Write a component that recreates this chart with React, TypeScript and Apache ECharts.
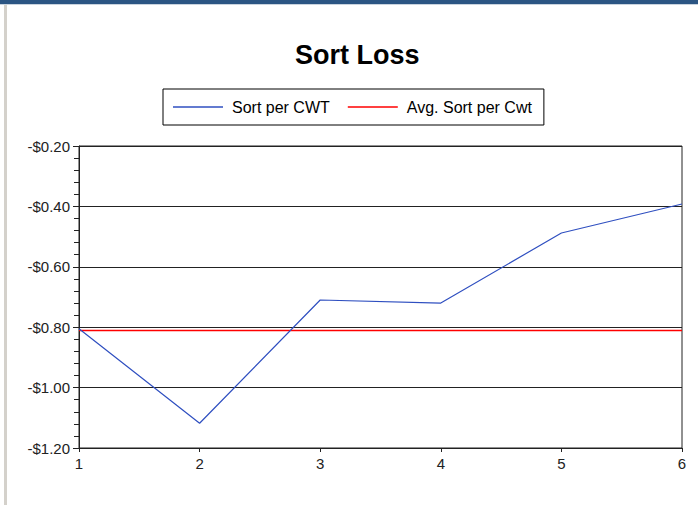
import React, { useEffect, useRef } from "react";
import * as echarts from "echarts";

const categories = ["1", "2", "3", "4", "5", "6"];
const sortPerCwt = [-0.805, -1.118, -0.71, -0.72, -0.488, -0.392];
const avgSortPerCwt = [-0.811, -0.811, -0.811, -0.811, -0.811, -0.811];
const titleText = "Sort Loss";
const seriesNames = ["Sort per CWT", "Avg. Sort per Cwt"];

const FONT = "'Liberation Sans', Arial, sans-serif";

export default function App() {
  const ref = useRef<HTMLDivElement>(null);
  useEffect(() => {
    document.body.style.margin = "0";
    const chart = echarts.init(ref.current!, null, { renderer: "svg" });
    chart.setOption({
      animation: false,
      backgroundColor: "#ffffff",
      title: {
        text: titleText,
        left: 290,
        top: 36,
        textStyle: { fontFamily: FONT, fontSize: 27, fontWeight: "bold", color: "#000" },
      },
      legend: {
        left: 163,
        top: 89,
        padding: [10, 12, 10, 10],
        borderColor: "#000",
        borderWidth: 1,
        icon: "rect",
        itemWidth: 50,
        itemHeight: 1.5,
        itemGap: 18,
        textStyle: { fontFamily: FONT, fontSize: 16, color: "#000", padding: [0, 0, 0, 4] },
        data: seriesNames,
      },
      grid: {
        left: 79,
        right: 16,
        top: 146,
        bottom: 57,
        show: true,
        borderColor: "#222",
        borderWidth: 1,
      },
      xAxis: {
        type: "category",
        data: categories,
        boundaryGap: false,
        axisLine: { lineStyle: { color: "#222", width: 1 } },
        axisTick: { show: true, length: 4, lineStyle: { color: "#222" } },
        axisLabel: { fontFamily: FONT, fontSize: 15, color: "#222", margin: 8 },
        splitLine: { show: false },
      },
      yAxis: {
        type: "value",
        min: -1.2,
        max: -0.2,
        interval: 0.2,
        axisLine: { show: true, lineStyle: { color: "#222", width: 1 } },
        axisTick: { show: true, length: 6, lineStyle: { color: "#222" } },
        minorTick: { show: true, splitNumber: 5, length: 5, lineStyle: { color: "#222" } },
        axisLabel: {
          fontFamily: FONT,
          fontSize: 15,
          color: "#222",
          margin: 9,
          formatter: (v: number) => "-$" + Math.abs(v).toFixed(2),
        },
        splitLine: { show: true, lineStyle: { color: "#222", width: 1 } },
      },
      graphic: [
        { type: "rect", shape: { x: 0, y: 0, width: 698, height: 4 }, style: { fill: "#2b5583" }, silent: true },
        { type: "rect", shape: { x: 0, y: 4, width: 698, height: 1 }, style: { fill: "#c9d3de" }, silent: true },
        { type: "rect", shape: { x: 4, y: 5, width: 3, height: 500 }, style: { fill: "#d4d1cb" }, silent: true },
      ],
      series: [
        {
          name: seriesNames[0],
          type: "line",
          data: sortPerCwt,
          symbol: "none",
          lineStyle: { color: "#2f4fc0", width: 1.2 },
          itemStyle: { color: "#2f4fc0" },
          z: 3,
        },
        {
          name: seriesNames[1],
          type: "line",
          data: avgSortPerCwt,
          symbol: "none",
          lineStyle: { color: "#ff0000", width: 1.5 },
          itemStyle: { color: "#ff0000" },
          z: 2,
        },
      ],
    });
    return () => chart.dispose();
  }, []);
  return (
    <div
      ref={ref}
      style={{ position: "absolute", left: 0, top: 0, width: 698, height: 505 }}
    />
  );
}
